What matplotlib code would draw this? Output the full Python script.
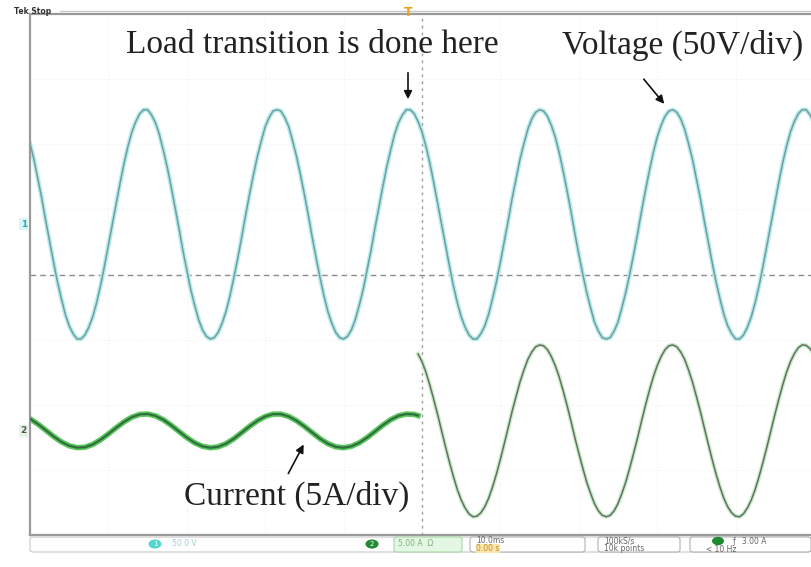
import numpy as np
import matplotlib
matplotlib.use("Agg")
import matplotlib.pyplot as plt
from matplotlib.patches import FancyBboxPatch, FancyArrowPatch, Circle

# ======================= DATA =======================

# voltage trace, V, one reading every 0.5 ms (10 ms/div, 10 divisions)
t_volt = np.arange(0, 100.25, 0.5)
voltage = [62, 50, 35, 20, 3, -13, -29, -44, -57, -69,
           -78, -84, -88, -88, -85, -79, -71, -60, -47, -32,
           -16, 0, 16, 32, 47, 60, 71, 79, 85, 88,
           88, 84, 78, 69, 57, 44, 29, 13, -3, -20,
           -35, -50, -62, -73, -81, -86, -88, -87, -83, -76,
           -67, -55, -41, -26, -10, 7, 23, 38, 52, 64,
           75, 82, 87, 88, 87, 82, 75, 64, 52, 38,
           23, 7, -10, -26, -41, -55, -67, -76, -83, -87,
           -88, -86, -81, -73, -62, -50, -35, -20, -3, 13,
           29, 44, 57, 69, 78, 84, 88, 88, 85, 79,
           71, 60, 47, 32, 16, 0, -16, -32, -47, -60,
           -71, -79, -85, -88, -88, -84, -78, -69, -57, -44,
           -29, -13, 3, 20, 35, 50, 62, 73, 81, 86,
           88, 87, 83, 76, 67, 55, 41, 26, 10, -7,
           -23, -38, -52, -64, -75, -82, -87, -88, -87, -82,
           -75, -64, -52, -38, -23, -7, 10, 26, 41, 55,
           67, 76, 83, 87, 88, 86, 81, 73, 62, 50,
           35, 20, 3, -13, -29, -44, -57, -69, -78, -84,
           -88, -88, -85, -79, -71, -60, -47, -32, -16, 0,
           16, 32, 47, 60, 71, 79, 85, 88, 88, 84,
           78]

# current before the load step, A (every 1 ms, last reading at the step)
t_before = list(range(0, 50)) + [49.5]
current_before = [0.92, 0.52, 0.05, -0.43, -0.85, -1.15, -1.29, -1.26, -1.05, -0.69,
                  -0.24, 0.24, 0.69, 1.05, 1.26, 1.29, 1.15, 0.85, 0.43, -0.05,
                  -0.52, -0.92, -1.19, -1.30, -1.23, -0.99, -0.61, -0.14, 0.34, 0.77,
                  1.10, 1.28, 1.28, 1.10, 0.77, 0.34, -0.14, -0.61, -0.99, -1.23,
                  -1.30, -1.19, -0.92, -0.52, -0.05, 0.43, 0.85, 1.15, 1.29, 1.26,
                  1.17]

# current after the load step, A (every 0.5 ms from the step at 49.5 ms)
t_after = np.arange(49.5, 100.25, 0.5)
current_after = [5.90, 5.31, 4.50, 3.50, 2.40, 1.23, 0.00, -1.23, -2.40, -3.50,
                 -4.50, -5.31, -5.93, -6.38, -6.60, -6.56, -6.30, -5.84, -5.18, -4.31,
                 -3.30, -2.18, -0.98, 0.25, 1.50, 2.64, 3.75, 4.67, 5.48, 6.05,
                 6.45, 6.59, 6.53, 6.23, 5.70, 5.00, 4.13, 3.09, 1.95, 0.74,
                 -0.53, -1.71, -2.85, -3.92, -4.80, -5.59, -6.15, -6.49, -6.60, -6.49,
                 -6.15, -5.59, -4.80, -3.92, -2.85, -1.71, -0.53, 0.74, 1.95, 3.09,
                 4.13, 5.00, 5.70, 6.23, 6.53, 6.59, 6.45, 6.05, 5.48, 4.67,
                 3.75, 2.64, 1.50, 0.25, -0.98, -2.18, -3.30, -4.31, -5.18, -5.84,
                 -6.30, -6.56, -6.60, -6.38, -5.93, -5.31, -4.50, -3.50, -2.40, -1.23,
                 0.00, 1.23, 2.40, 3.50, 4.50, 5.31, 5.93, 6.38, 6.60, 6.56,
                 6.30, 5.84]

# ======================= SCOPE SETTINGS =======================

V_SCALE, V_OFFSET = 50.0, 0.77     # V/div, div
I_SCALE, I_OFFSET = 5.0, -2.4      # A/div, div
W, H = 811, 567


def fx(px):
    return px / W


def fy(py):
    return 1 - py / H


fig = plt.figure(figsize=(W / 100, H / 100), dpi=100)
fig.patch.set_facecolor("white")

# graticule spans x 30..814 px, y 14..535 px
ax = fig.add_axes([fx(30), fy(535), (814 - 30) / W, (535 - 14) / H])
ax.set_xlim(0, 100)
ax.set_ylim(-4, 4)
ax.set_xticks([])
ax.set_yticks([])
for side in ["left", "top", "bottom"]:
    ax.spines[side].set_color("#9a9a9a")
    ax.spines[side].set_linewidth(1.6)
ax.spines["right"].set_visible(False)

# faint grid
for gx in range(10, 100, 10):
    ax.axvline(gx, color="#f1f1f1", lw=0.8, ls=":", zorder=0)
for gy in range(-3, 4):
    ax.axhline(gy, color="#f1f1f1", lw=0.8, ls=":", zorder=0)

# centre crosshair
ax.axhline(0, color="#8c8c8c", lw=1.0, ls=(0, (4, 3)), zorder=1)
ax.axvline(50, color="#a0a0a0", lw=1.0, ls=(0, (2, 3)), zorder=1)

# ======================= TRACES =======================

v_div = np.array(voltage) / V_SCALE + V_OFFSET
ax.plot(t_volt, v_div, color="#b0eeee", lw=3.2, solid_joinstyle="round", zorder=2)
ax.plot(t_volt, v_div, color="#7b9a9a", lw=1.1, solid_joinstyle="round", zorder=3)

ib = np.array(current_before) / I_SCALE + I_OFFSET
ia = np.array(current_after) / I_SCALE + I_OFFSET
ax.plot(t_before, ib, color="#5cc85c", lw=4.0, solid_joinstyle="round", zorder=2)
ax.plot(t_before, ib, color="#2f6f3f", lw=1.6, solid_joinstyle="round", zorder=3)
ax.plot(t_after, ia, color="#c4efc4", lw=3.0, solid_joinstyle="round", zorder=2)
ax.plot(t_after, ia, color="#6b6b6b", lw=1.1, solid_joinstyle="round", zorder=3)

# channel markers on the left edge
ax.text(-0.4, V_OFFSET, "1", color="#2aa7b8", fontsize=6.5, fontweight="bold",
        ha="right", va="center", clip_on=False,
        bbox=dict(boxstyle="square,pad=0.15", fc="#d8f6f8", ec="none"))
ax.text(-0.4, I_OFFSET, "2", color="#555555", fontsize=6.5, fontweight="bold",
        ha="right", va="center", clip_on=False,
        bbox=dict(boxstyle="square,pad=0.15", fc="#e2f4e2", ec="none"))

# ======================= ANNOTATIONS =======================

serif = ["Liberation Serif", "DejaVu Serif"]
fig.text(fx(312), fy(45), "Load transition is done here", family=serif,
         fontsize=24, color="#222222", ha="center", va="center")
fig.text(fx(683), fy(45), "Voltage (50V/div)", family=serif,
         fontsize=24, color="#222222", ha="center", va="center")
fig.text(fx(297), fy(496), "Current (5A/div)", family=serif,
         fontsize=24, color="#222222", ha="center", va="center")

arrow = dict(arrowstyle="-|>", color="#111111", lw=1.2, mutation_scale=12,
             transform=fig.transFigure)
fig.add_artist(FancyArrowPatch((fx(408), fy(70)), (fx(408), fy(102)), **arrow))
fig.add_artist(FancyArrowPatch((fx(642), fy(77)), (fx(666), fy(106)), **arrow))
fig.add_artist(FancyArrowPatch((fx(287), fy(476)), (fx(305), fy(442)), **arrow))

# ======================= SCOPE CHROME =======================

fig.text(fx(14), fy(12), "Tek Stop", fontsize=5.5, fontweight="bold",
         color="#333333", va="center")
fig.add_artist(plt.Line2D([fx(60), 1], [fy(11), fy(11)], color="#c8c8c8", lw=1.0))
fig.text(fx(408), fy(12), "T", fontsize=9, fontweight="bold", color="#f0a020",
         ha="center", va="center")

# status bar
bar_y0, bar_y1 = 537, 552


def box(x0, x1, fc="white", ec="#b0b0b0"):
    fig.add_artist(FancyBboxPatch((fx(x0), fy(bar_y1)), fx(x1 - x0), (bar_y1 - bar_y0) / H,
                                  boxstyle="round,pad=0,rounding_size=0.004",
                                  transform=fig.transFigure, fc=fc, ec=ec, lw=0.8))


box(30, 811, ec="#c8c8c8")
fig.add_artist(Circle((fx(155), fy(544)), 6.5 / W, transform=fig.transFigure,
                      fc="#55d6cc", ec="none"))
fig.text(fx(155), fy(544), "1", fontsize=5, color="white", ha="center", va="center")
fig.text(fx(172), fy(544), "50.0 V", fontsize=5.5, color="#9fcfcf", va="center")

fig.add_artist(Circle((fx(372), fy(544)), 6.5 / W, transform=fig.transFigure,
                      fc="#1f8a2f", ec="none"))
fig.text(fx(372), fy(544), "2", fontsize=5, color="white", ha="center", va="center")
box(394, 462, fc="#e4f7e4", ec="#a8d8a8")
fig.text(fx(398), fy(544), "5.00 A  \u03a9", fontsize=5.5, color="#7fb07f", va="center")

box(470, 585)
fig.text(fx(476), fy(540.5), "10.0ms", fontsize=5.5, color="#666666", va="center")
fig.text(fx(476), fy(548.5), "0.00 s", fontsize=5.5, color="#c08a20", va="center",
         bbox=dict(boxstyle="square,pad=0.05", fc="#fbe6b0", ec="none"))

box(598, 680)
fig.text(fx(604), fy(540.5), "100kS/s", fontsize=5.5, color="#666666", va="center")
fig.text(fx(604), fy(548.5), "10k points", fontsize=5.5, color="#666666", va="center")

box(690, 811)
fig.add_artist(Circle((fx(718), fy(541)), 6 / W, transform=fig.transFigure,
                      fc="#1f8a2f", ec="none"))
fig.text(fx(732), fy(541), "\u0192   3.00 A", fontsize=5.5, color="#666666", va="center")
fig.text(fx(706), fy(549), "< 10 Hz", fontsize=5.5, color="#666666", va="center")

fig.savefig("out.png", dpi=100)
